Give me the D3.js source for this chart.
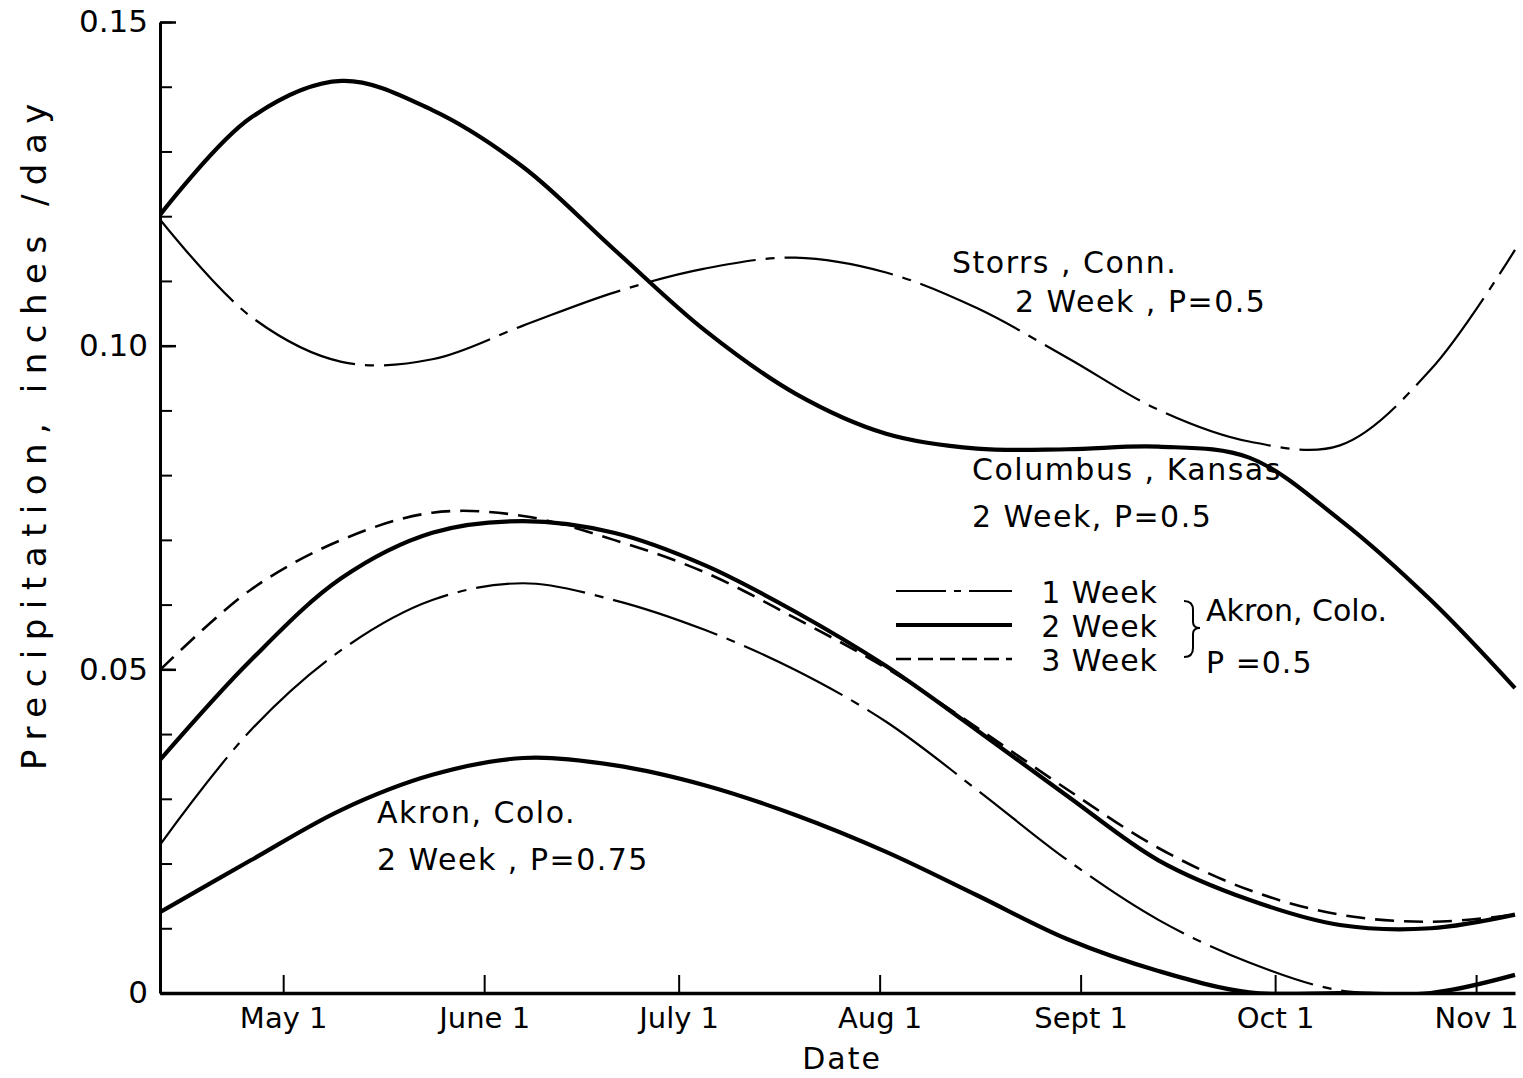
<!DOCTYPE html>
<html>
<head>
<meta charset="utf-8">
<script src="https://cdn.jsdelivr.net/npm/d3@7"></script>
<style>
  body { margin: 0; background: #fff; }
  svg { display: block; }
  text { font-family: "DejaVu Sans", sans-serif; fill: #000; }
</style>
</head>
<body>
<svg id="chart" width="1523" height="1078"></svg>
<script>
// sample dates (1950 used only as a dummy year), every two weeks
var dates = ["04-12", "04-26", "05-10", "05-24", "06-07", "06-21", "07-05", "07-19",
  "08-02", "08-16", "08-30", "09-13", "09-27", "10-11", "10-25", "11-07"];

// precipitation, inches/day
var storrs2wk = [0.1195, 0.1045, 0.0975, 0.0979, 0.1031, 0.1082, 0.1119, 0.1136,
  0.1113, 0.1058, 0.0981, 0.0901, 0.0852, 0.0846, 0.0963, 0.1148];
var columbus2wk = [0.1202, 0.1352, 0.1409, 0.1364, 0.1276, 0.1149, 0.1024, 0.0926,
  0.0864, 0.0841, 0.0840, 0.0844, 0.0827, 0.0731, 0.0607, 0.0471];
var akron3wk = [0.0499, 0.0623, 0.0700, 0.0742, 0.0737, 0.0700, 0.0650, 0.0579,
  0.0502, 0.0410, 0.0314, 0.0224, 0.0159, 0.0121, 0.0110, 0.0121];
var akron2wk = [0.0360, 0.0514, 0.0641, 0.0711, 0.0729, 0.0711, 0.0661, 0.0589,
  0.0505, 0.0406, 0.0304, 0.0205, 0.0144, 0.0105, 0.0100, 0.0121];
var akron1wk = [0.0229, 0.0406, 0.0530, 0.0607, 0.0633, 0.0607, 0.0561, 0.0499,
  0.0419, 0.0314, 0.0205, 0.0113, 0.0047, 0.0004, 0.0000, null];
var akron2wkP75 = [0.0125, 0.0205, 0.0283, 0.0337, 0.0363, 0.0352, 0.0321, 0.0275,
  0.0218, 0.0151, 0.0083, 0.0034, 0.0001, 0.0000, 0.0000, 0.0028];

var monthTicks = ["05-01", "06-01", "07-01", "08-01", "09-01", "10-01", "11-01"];
var monthLabels = ["May 1", "June 1", "July 1", "Aug 1", "Sept 1", "Oct 1", "Nov 1"];
var yMajor = [0, 0.05, 0.10, 0.15];
var yMajorLabels = ["0", "0.05", "0.10", "0.15"];
var yMinor = d3.range(0, 0.151, 0.01);

(function() {
  var parse = function(s) { return d3.timeParse("%Y-%m-%d")("1950-" + s); };

  var svg = d3.select("#chart");
  var mLeft = 160, mRight = 1515, mTop = 22, mBottom = 993;

  var x = d3.scaleTime()
    .domain([parse("04-12"), parse("11-07")])
    .range([mLeft, mRight]);
  var y = d3.scaleLinear()
    .domain([0, 0.15])
    .range([mBottom, mTop]);

  // keep curves inside the plot (above the date axis)
  svg.append("clipPath").attr("id", "plot")
    .append("rect")
    .attr("x", mLeft).attr("y", 0)
    .attr("width", mRight - mLeft + 5).attr("height", mBottom);

  // series drawn: values, width, dash
  var series = [
    { v: storrs2wk, w: 2.2, dash: "110,10,9,10" },
    { v: columbus2wk, w: 4.2, dash: null },
    { v: akron3wk, w: 2.6, dash: "19,10" },
    { v: akron2wk, w: 4.2, dash: null },
    { v: akron1wk, w: 2.2, dash: "110,10,9,10" },
    { v: akron2wkP75, w: 4.2, dash: null }
  ];

  var line = d3.line()
    .defined(function(d) { return d[1] != null; })
    .x(function(d) { return x(d[0]); })
    .y(function(d) { return y(d[1]); })
    .curve(d3.curveCatmullRom.alpha(0.5));

  svg.append("g")
    .attr("clip-path", "url(#plot)")
    .selectAll("path")
    .data(series)
    .enter().append("path")
    .attr("d", function(s) {
      return line(dates.map(function(dt, i) { return [parse(dt), s.v[i]]; }));
    })
    .attr("fill", "none")
    .attr("stroke", "#000")
    .attr("stroke-width", function(s) { return s.w; })
    .attr("stroke-dasharray", function(s) { return s.dash; });

  // y axis: minor ticks pointing inward, then labelled major ticks
  svg.append("g")
    .attr("transform", "translate(" + mLeft + ",0)")
    .call(d3.axisLeft(y).tickValues(yMinor).tickSize(-12).tickSizeOuter(0).tickFormat(""))
    .call(function(g) {
      g.select(".domain").attr("stroke-width", 3);
      g.selectAll(".tick line").attr("stroke-width", 2);
    });

  svg.append("g")
    .attr("transform", "translate(" + mLeft + ",0)")
    .call(d3.axisLeft(y).tickValues(yMajor).tickSize(-16).tickSizeOuter(0).tickPadding(12)
      .tickFormat(function(d, i) { return yMajorLabels[i]; }))
    .call(function(g) {
      g.select(".domain").remove();
      g.selectAll(".tick line").attr("stroke-width", 2.5);
      g.selectAll(".tick text").style("font-size", "31px").attr("font-family", null);
    });

  // x axis with ticks pointing up
  svg.append("g")
    .attr("transform", "translate(0," + mBottom + ")")
    .call(d3.axisBottom(x).tickValues(monthTicks.map(parse)).tickSize(-18).tickSizeOuter(0)
      .tickPadding(14).tickFormat(function(d, i) { return monthLabels[i]; }))
    .call(function(g) {
      g.select(".domain").attr("stroke-width", 3.5);
      g.selectAll(".tick line").attr("stroke-width", 2);
      g.selectAll(".tick text").style("font-size", "29px").attr("font-family", null);
    });

  // axis titles
  svg.append("text")
    .attr("transform", "translate(46,432) rotate(-90)")
    .attr("text-anchor", "middle")
    .style("font-size", "34px")
    .style("letter-spacing", "9.5px")
    .text("Precipitation, inches /day");

  svg.append("text")
    .attr("x", 842).attr("y", 1069)
    .attr("text-anchor", "middle")
    .style("font-size", "30px")
    .style("letter-spacing", "2px")
    .text("Date");

  // curve labels
  var notes = [
    ["Storrs , Conn.", 952, 273],
    ["2  Week , P=0.5", 1015, 312],
    ["Columbus , Kansas", 972, 480],
    ["2 Week, P=0.5", 972, 527],
    ["Akron,  Colo.", 377, 823],
    ["2 Week ,  P=0.75", 377, 870]
  ];
  svg.append("g").selectAll("text")
    .data(notes)
    .enter().append("text")
    .attr("x", function(d) { return d[1]; })
    .attr("y", function(d) { return d[2]; })
    .style("font-size", "30px")
    .style("letter-spacing", "1.5px")
    .text(function(d) { return d[0]; });

  // legend
  var legendRows = [
    { label: "1 Week", s: series[4], y: 591, dash: "50,8,7,8" },
    { label: "2 Week", s: series[3], y: 625, dash: null },
    { label: "3 Week", s: series[2], y: 659, dash: "15,7" }
  ];
  var legend = svg.append("g");
  legend.selectAll("line")
    .data(legendRows)
    .enter().append("line")
    .attr("x1", 896).attr("x2", 1012)
    .attr("y1", function(d) { return d.y; })
    .attr("y2", function(d) { return d.y; })
    .attr("stroke", "#000")
    .attr("stroke-width", function(d) { return d.s.w; })
    .attr("stroke-dasharray", function(d) { return d.dash; });
  legend.selectAll("text")
    .data(legendRows)
    .enter().append("text")
    .attr("x", 1158)
    .attr("y", function(d) { return d.y + 12; })
    .attr("text-anchor", "end")
    .style("font-size", "30px")
    .style("letter-spacing", "1px")
    .text(function(d) { return d.label; });

  legend.append("path")
    .attr("d", "M1184,601 Q1193,601 1193,610 L1193,622 Q1193,628 1200,628 Q1193,628 1193,634 L1193,648 Q1193,657 1184,657")
    .attr("fill", "none")
    .attr("stroke", "#000")
    .attr("stroke-width", 2);
  legend.append("text").attr("x", 1206).attr("y", 621)
    .style("font-size", "30px").text("Akron, Colo.");
  legend.append("text").attr("x", 1206).attr("y", 673)
    .style("font-size", "30px").style("letter-spacing", "1px").text("P =0.5");
})();
</script>
</body>
</html>
